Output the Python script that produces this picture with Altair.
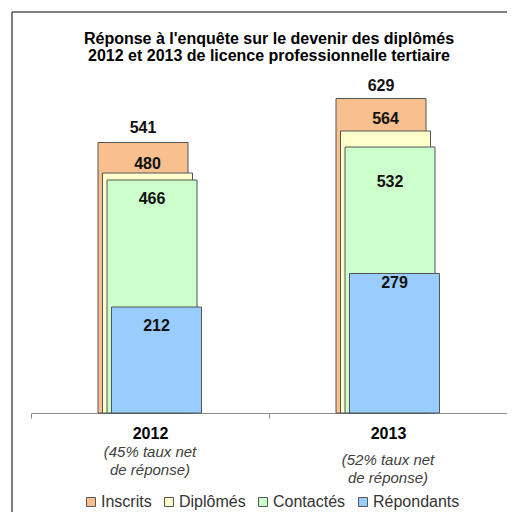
import altair as alt
import pandas as pd

# ---- data ----
years = ["2012", "2013"]
series = ["Inscrits", "Diplômés", "Contactés", "Répondants"]
inscrits = [541, 629]
diplomes = [480, 564]
contactes = [466, 532]
repondants = [212, 279]
subtitles = ["(45% taux net\nde réponse)", "(52% taux net\nde réponse)"]
colors = ["#F9C08F", "#FFFFCC", "#CCFFCC", "#99CCFF"]

values = {"Inscrits": inscrits, "Diplômés": diplomes,
          "Contactés": contactes, "Répondants": repondants}
rows = []
for s in series:
    for y, v in zip(years, values[s]):
        rows.append({"year": y, "series": s, "value": v})
df = pd.DataFrame(rows)
sub_df = pd.DataFrame({"year": years, "sub": subtitles})

FONT = "Liberation Sans"
W, H = 476, 350

# ---- styles ----
bar_offsets = {"Inscrits": -7, "Diplômés": -2.5, "Contactés": 2, "Répondants": 6.5}
label_dy = {
    ("Inscrits", "2012"): -15, ("Inscrits", "2013"): -13,
    ("Diplômés", "2012"): -9, ("Diplômés", "2013"): -12,
    ("Contactés", "2012"): 19, ("Contactés", "2013"): 35,
    ("Répondants", "2012"): 19, ("Répondants", "2013"): 9,
}
sub_y = {"2012": 382, "2013": 390}

x_enc = alt.X("year:N", sort=years,
              scale=alt.Scale(paddingInner=0, paddingOuter=0),
              axis=alt.Axis(title=None, labelAngle=0, domainColor="#8c8c8c",
                            tickColor="#8c8c8c", tickBand="extent", tickSize=5,
                            labelFontSize=16, labelFontWeight="bold",
                            labelColor="#000", labelFont=FONT, labelPadding=7))
y_enc = alt.Y("value:Q", scale=alt.Scale(domain=[0, 700]), axis=None)
color_enc = alt.Color("series:N", sort=series,
                      scale=alt.Scale(domain=series, range=colors),
                      legend=alt.Legend(title=None, orient="none", direction="horizontal",
                                        legendX=52, legendY=431, symbolType="square",
                                        symbolSize=80, symbolStrokeColor="#555",
                                        symbolStrokeWidth=1, labelFontSize=16,
                                        labelFont=FONT, labelColor="#333",
                                        labelOffset=2, columnPadding=9))

base = alt.Chart(df)
layers = []
for s in series:
    layers.append(
        base.transform_filter(alt.datum.series == s)
        .mark_bar(width=90, xOffset=bar_offsets[s], stroke="#555", strokeWidth=1)
        .encode(x=x_enc, y=y_enc, color=color_enc)
    )
for s in series:
    for yr in years:
        layers.append(
            base.transform_filter((alt.datum.series == s) & (alt.datum.year == yr))
            .mark_text(xOffset=bar_offsets[s], dy=label_dy[(s, yr)], fontSize=16,
                       fontWeight="bold", font=FONT, color="#111", baseline="middle")
            .encode(x=alt.X("year:N", sort=years), y="value:Q", text="value:Q")
        )
for yr in years:
    layers.append(
        alt.Chart(sub_df).transform_filter(alt.datum.year == yr)
        .mark_text(fontSize=15, fontStyle="italic", font=FONT, color="#404040",
                   lineBreak="\n", baseline="top", lineHeight=18)
        .encode(x=alt.X("year:N", sort=years), y=alt.value(sub_y[yr]), text="sub:N")
    )

frame_df = pd.DataFrame({"a": [0]})
frame_left = alt.Chart(frame_df).mark_rule(color="#000", strokeWidth=1).encode(
    x=alt.value(-19), y=alt.value(-51), y2=alt.value(460))
frame_top = alt.Chart(frame_df).mark_rule(color="#000", strokeWidth=1).encode(
    x=alt.value(-19), x2=alt.value(480), y=alt.value(-51))
layers += [frame_left, frame_top]

chart = alt.layer(*layers).properties(
    width=W, height=H,
    autosize=alt.AutoSizeParams(type="none"),
    padding={"left": 23, "top": 55, "right": 0, "bottom": 99},
    title=alt.TitleParams(
        ["Réponse à l'enquête sur le devenir des diplômés",
         "2012 et 2013 de licence professionnelle  tertiaire"],
        fontSize=16, font=FONT, fontWeight="bold", anchor="middle", frame="group",
        offset=-49, dy=3, lineHeight=17, color="#000"),
).configure(background="#fff", view=alt.ViewConfig(stroke=None))

chart.save("out.html", embed_options={"renderer": "svg", "actions": False})
